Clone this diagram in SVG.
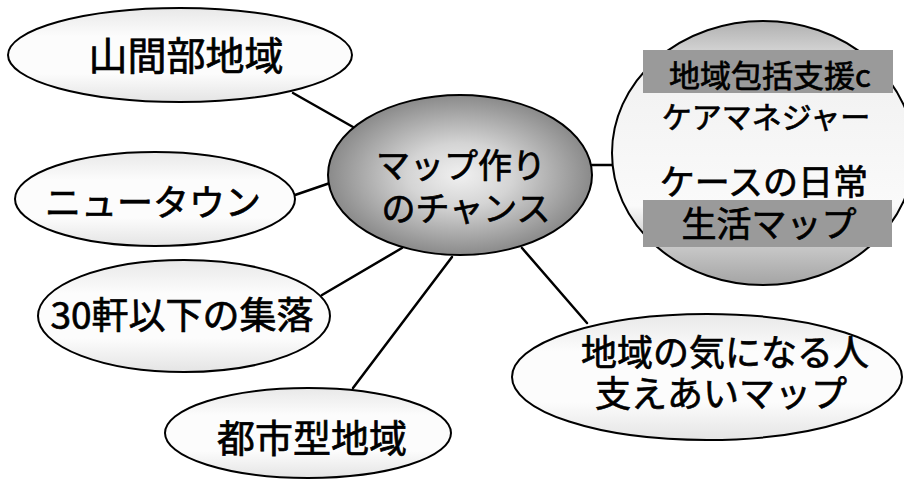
<svg xmlns="http://www.w3.org/2000/svg" width="904" height="481" viewBox="0 0 904 481">
<style>
.node{stroke:#000;stroke-width:2}
.outer{fill:url(#lightFill)}
.t{font-family:"Noto Sans CJK JP","Noto Sans CJK SC",sans-serif;fill:#000;stroke:#000;stroke-width:0.7;text-anchor:middle}
.conn line{stroke:#000;stroke-width:2.5;stroke-linecap:round}
</style>
<defs>
<linearGradient id="lightFill" x1="0" y1="0" x2="0" y2="1">
<stop offset="0" stop-color="#e8e8e8"/>
<stop offset="0.3" stop-color="#fcfcfc"/>
<stop offset="0.7" stop-color="#fcfcfc"/>
<stop offset="1" stop-color="#e4e4e4"/>
</linearGradient>
<radialGradient id="centerFill" cx="0.5" cy="0.5" r="0.5">
<stop offset="0" stop-color="#f0f0f0"/>
<stop offset="0.4" stop-color="#d4d4d4"/>
<stop offset="1" stop-color="#8a8a8a"/>
</radialGradient>
<linearGradient id="rightFill" x1="0" y1="0" x2="0" y2="1">
<stop offset="0" stop-color="#b0b0b0"/>
<stop offset="0.22" stop-color="#f2f2f2"/>
<stop offset="0.7" stop-color="#fafafa"/>
<stop offset="0.82" stop-color="#d0d0d0"/>
<stop offset="1" stop-color="#a4a4a4"/>
</linearGradient>
</defs>
<rect width="904" height="481" fill="#fff"/>
<g id="connectors" class="conn">
<line x1="293" y1="93" x2="353" y2="127"/>
<line x1="295" y1="195" x2="330" y2="183"/>
<line x1="322" y1="295" x2="402" y2="248"/>
<line x1="353" y1="388" x2="452" y2="257"/>
<line x1="522" y1="248" x2="587" y2="323"/>
<line x1="592" y1="165" x2="612" y2="165"/>
</g>
<g id="n-sankanbu">
<ellipse class="node outer" cx="180" cy="55" rx="172" ry="47"/>
<text class="t" x="186" y="70" font-size="39">山間部地域</text>
</g>
<g id="n-newtown">
<ellipse class="node outer" cx="155" cy="199" rx="140" ry="47"/>
<text class="t" x="153" y="216" font-size="36">ニュータウン</text>
</g>
<g id="n-shuraku">
<ellipse class="node outer" cx="184" cy="316" rx="146" ry="56"/>
<text class="t" x="182" y="329" font-size="37">30軒以下の集落</text>
</g>
<g id="n-toshi">
<ellipse class="node outer" cx="308" cy="433" rx="143" ry="45"/>
<text class="t" x="312" y="452" font-size="38">都市型地域</text>
</g>
<g id="n-center">
<ellipse class="node" cx="460" cy="175" rx="132" ry="80" fill="url(#centerFill)"/>
<text class="t" x="461" y="178" font-size="34">マップ作り</text>
<text class="t" x="466" y="221" font-size="34">のチャンス</text>
</g>
<g id="n-kinaru">
<ellipse class="node outer" cx="707" cy="377" rx="195" ry="63"/>
<text class="t" x="725" y="366" font-size="36">地域の気になる人</text>
<text class="t" x="721" y="407" font-size="36">支えあいマップ</text>
</g>
<g id="n-case">
<ellipse class="node" cx="763" cy="153" rx="151" ry="132" fill="url(#rightFill)"/>
<rect x="643" y="50" width="250" height="43" fill="#9a9a9a"/>
<rect x="643" y="200" width="249" height="47" fill="#9a9a9a"/>
<text class="t" x="770" y="87" font-size="31">地域包括支援c</text>
<text class="t" x="766" y="128" font-size="30">ケアマネジャー</text>
<text class="t" x="764" y="195" font-size="35">ケースの日常</text>
<text class="t" x="769" y="237" font-size="35">生活マップ</text>
</g>
</svg>
